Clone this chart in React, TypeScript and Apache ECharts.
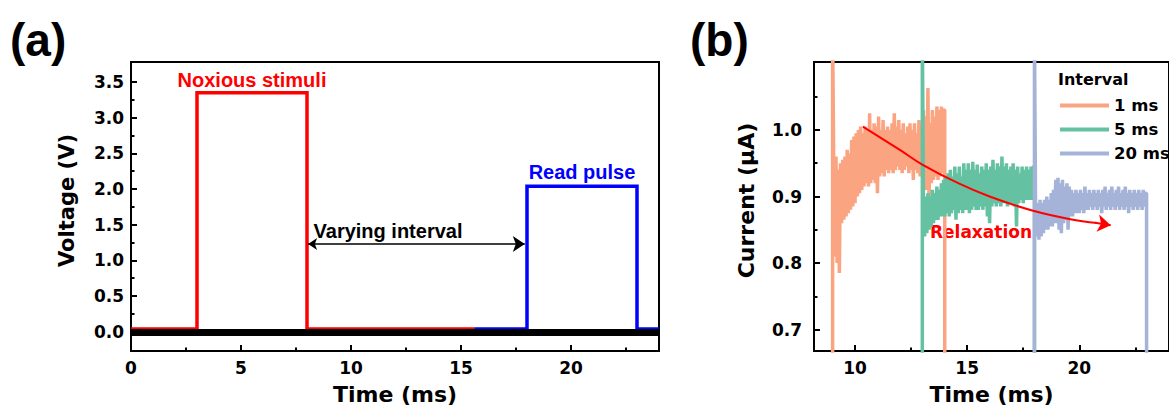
import React, { useEffect, useRef } from "react";
import * as echarts from "echarts";

// ---------- Panel (a) data ----------
const X_A_TICKS = [0, 5, 10, 15, 20];
const X_A_MINOR = [2.5, 7.5, 12.5, 17.5, 22.5];
const Y_A_TICKS = [0, 0.5, 1, 1.5, 2, 2.5, 3, 3.5];
const Y_A_MINOR = [0.25, 0.75, 1.25, 1.75, 2.25, 2.75, 3.25];

const RED_T = [0, 3, 3, 8, 8, 15.6];
const RED_V = [0.04, 0.04, 3.35, 3.35, 0.04, 0.04];
const BLUE_T = [15.6, 18, 18, 23, 23, 24];
const BLUE_V = [0.04, 0.04, 2.04, 2.04, 0.04, 0.04];
const BASE_T = [0, 24];
const BASE_V = [-0.01, -0.01];
const INTERVAL_ARROW_T = [8.05, 17.9];
const INTERVAL_ARROW_V = 1.23;

// ---------- Panel (b) data ----------
const X_B_TICKS = [10, 15, 20];
const X_B_MINOR = [12.5, 17.5, 22.5];
const Y_B_TICKS = [0.7, 0.8, 0.9, 1.0];
const Y_B_MINOR = [0.75, 0.85, 0.95, 1.05];

const T_STEP = 0.05;
const OFF_LOW = 0.6; // pulse current far below the visible window
const OFF_HIGH = 1.15; // pulse current far above the visible window

const ORANGE_PULSE_ON = 9.0;
const ORANGE_START = 9.05;
const ORANGE_END = 14.0;
const ORANGE_V = [
  0.95, 0.81, 0.96, 0.80, 0.94, 0.785, 0.95, 0.86, 0.955, 0.865,
  0.96, 0.87, 0.97, 0.875, 0.965, 0.88, 0.985, 0.885, 0.99, 0.89,
  0.995, 0.90, 1.0, 0.905, 1.005, 0.91, 0.995, 0.915, 1.005, 0.92,
  1.0, 0.915, 1.025, 0.92, 1.0, 0.925, 1.01, 0.92, 1.005, 0.905,
  1.02, 0.93, 1.0, 0.935, 1.015, 0.93, 1.0, 0.94, 1.005, 0.935,
  1.0, 0.94, 1.01, 0.935, 1.025, 0.94, 1.005, 0.945, 1.015, 0.94,
  1.0, 0.935, 1.01, 0.94, 0.995, 0.945, 1.005, 0.935, 1.01, 0.94,
  1.0, 0.925, 1.01, 0.94, 0.995, 0.935, 1.015, 0.93, 1.01, 0.935,
  1.03, 0.93, 1.02, 0.91, 1.063, 0.895, 1.01, 0.92, 1.03, 0.925,
  1.02, 0.93, 1.035, 0.925, 1.03, 0.93, 1.035, 0.935, 1.03,
];

const GREEN_PULSE_ON = 13.0;
const GREEN_START = 13.05;
const GREEN_END = 18.0;
const GREEN_V = [
  0.895, 0.84, 0.90, 0.845, 0.905, 0.85, 0.90, 0.855, 0.91, 0.86,
  0.905, 0.865, 0.915, 0.865, 0.91, 0.87, 0.92, 0.87, 0.925, 0.87,
  0.93, 0.875, 0.935, 0.87, 0.94, 0.875, 0.93, 0.88, 0.945, 0.865,
  0.935, 0.875, 0.945, 0.88, 0.93, 0.875, 0.95, 0.88, 0.94, 0.88,
  0.95, 0.875, 0.94, 0.88, 0.952, 0.885, 0.94, 0.88, 0.948, 0.88,
  0.935, 0.885, 0.945, 0.88, 0.94, 0.885, 0.95, 0.87, 0.94, 0.86,
  0.945, 0.885, 0.955, 0.89, 0.94, 0.885, 0.95, 0.89, 0.945, 0.885,
  0.96, 0.89, 0.945, 0.89, 0.95, 0.885, 0.94, 0.89, 0.945, 0.89,
  0.95, 0.885, 0.94, 0.855, 0.945, 0.89, 0.935, 0.895, 0.945, 0.89,
  0.94, 0.895, 0.945, 0.895, 0.94, 0.895, 0.945, 0.895, 0.945,
];

const BLUE_PULSE_ON = 18.0;
const BLUE_START = 18.05;
const BLUE_END = 23.0;
const BLUE_TRACE_V = [
  0.885, 0.84, 0.89, 0.835, 0.895, 0.84, 0.89, 0.845, 0.895, 0.85,
  0.90, 0.85, 0.895, 0.855, 0.905, 0.855, 0.91, 0.86, 0.925, 0.86,
  0.928, 0.85, 0.92, 0.845, 0.925, 0.86, 0.915, 0.865, 0.92, 0.85,
  0.915, 0.87, 0.91, 0.87, 0.905, 0.875, 0.91, 0.875, 0.905, 0.875,
  0.91, 0.88, 0.905, 0.875, 0.915, 0.88, 0.905, 0.88, 0.91, 0.885,
  0.905, 0.88, 0.91, 0.885, 0.905, 0.88, 0.91, 0.885, 0.905, 0.875,
  0.91, 0.885, 0.915, 0.88, 0.905, 0.885, 0.91, 0.88, 0.915, 0.885,
  0.905, 0.88, 0.91, 0.885, 0.915, 0.88, 0.905, 0.885, 0.91, 0.88,
  0.915, 0.885, 0.905, 0.875, 0.91, 0.885, 0.905, 0.88, 0.91, 0.885,
  0.905, 0.88, 0.91, 0.885, 0.905, 0.88, 0.91, 0.885, 0.905,
];

const RELAX_T = [10.35, 12.0, 13.0, 14.6, 16.0, 17.9, 19.6, 20.8];
const RELAX_V = [1.005, 0.97, 0.948, 0.92, 0.9, 0.879, 0.866, 0.8603];
const RELAX_HEAD_T = [20.7, 21.4];
const RELAX_HEAD_V = [0.8607, 0.857];

const LEGEND_NAMES = ["1 ms", "5 ms", "20 ms"];

// ---------- styles ----------
const DV = '"DejaVu Sans"';
const LS = '"Liberation Sans", Arial, sans-serif';
const C_ORANGE = "#fba481";
const C_GREEN = "#64c2a2";
const C_BLUE = "#a5b3d8";

const zip = (t: number[], v: number[]) => t.map((x, i) => [x, v[i]]);
const sampled = (start: number, vals: number[]) =>
  vals.map((v, i) => [Number((start + i * T_STEP).toFixed(3)), v]);

function mainX(grid: number, min: number, max: number, ticks: number[]) {
  return {
    gridIndex: grid,
    type: "value",
    min,
    max,
    position: "bottom",
    axisLine: { onZero: false, lineStyle: { color: "#000", width: 2 } },
    axisTick: { inside: true, length: 6, customValues: ticks, lineStyle: { color: "#000", width: 2 } },
    axisLabel: {
      customValues: ticks,
      margin: 8,
      color: "#000",
      fontFamily: DV,
      fontWeight: "bold",
      fontSize: 17,
    },
    splitLine: { show: false },
    name: "Time (ms)",
    nameLocation: "middle",
    nameGap: 32,
    nameTextStyle: { color: "#000", fontFamily: DV, fontWeight: "bold", fontSize: 22 },
  };
}
function minorX(grid: number, min: number, max: number, ticks: number[]) {
  return {
    gridIndex: grid,
    type: "value",
    min,
    max,
    position: "bottom",
    axisLine: { show: false, onZero: false },
    axisTick: { inside: true, length: 3.5, customValues: ticks, lineStyle: { color: "#000", width: 2 } },
    axisLabel: { show: false },
    splitLine: { show: false },
  };
}
function mainY(
  grid: number,
  min: number,
  max: number,
  ticks: number[],
  name: string,
  gap: number,
  margin: number,
  nameSize: number
) {
  return {
    gridIndex: grid,
    type: "value",
    min,
    max,
    position: "left",
    axisLine: { onZero: false, lineStyle: { color: "#000", width: 2 } },
    axisTick: { inside: true, length: 6, customValues: ticks, lineStyle: { color: "#000", width: 2 } },
    axisLabel: {
      customValues: ticks,
      margin,
      color: "#000",
      fontFamily: DV,
      fontWeight: "bold",
      fontSize: 17,
      formatter: (v: number) => v.toFixed(1),
    },
    splitLine: { show: false },
    name,
    nameLocation: "middle",
    nameGap: gap,
    nameTextStyle: {
      color: "#000",
      fontFamily: DV,
      fontWeight: "bold",
      fontSize: nameSize,
      padding: [0, 0, 0, 12],
    },
  };
}
function minorY(grid: number, min: number, max: number, ticks: number[]) {
  return {
    gridIndex: grid,
    type: "value",
    min,
    max,
    position: "left",
    axisLine: { show: false, onZero: false },
    axisTick: { inside: true, length: 3.5, customValues: ticks, lineStyle: { color: "#000", width: 2 } },
    axisLabel: { show: false },
    splitLine: { show: false },
  };
}

const textEl = (text: string, x: number, y: number, font: string, fill: string, align = "center") => ({
  type: "text",
  x,
  y,
  style: { text, font, fill, align, verticalAlign: "middle" },
});

export default function App() {
  const ref = useRef<HTMLDivElement>(null);
  useEffect(() => {
    if (!ref.current) return;
    const chart = echarts.init(ref.current, null, { renderer: "svg" });
    const lineBase = { type: "line", symbol: "none", showSymbol: false, silent: true };
    const option: any = {
      animation: false,
      backgroundColor: "#fff",
      grid: [
        { left: 131, top: 62, width: 528, height: 289, show: true, borderColor: "#000", borderWidth: 2, backgroundColor: "transparent" },
        { left: 814, top: 62, width: 368, height: 289, show: true, borderColor: "#000", borderWidth: 2, backgroundColor: "transparent" },
      ],
      xAxis: [
        mainX(0, 0, 24, X_A_TICKS),
        mainX(1, 8.17, 24, X_B_TICKS),
        minorX(0, 0, 24, X_A_MINOR),
        minorX(1, 8.17, 24, X_B_MINOR),
      ],
      yAxis: [
        mainY(0, -0.27, 3.78, Y_A_TICKS, "Voltage (V)", 54, 7, 21),
        mainY(1, 0.668, 1.102, Y_B_TICKS, "Current (μA)", 57, 12, 22),
        minorY(0, -0.27, 3.78, Y_A_MINOR),
        minorY(1, 0.668, 1.102, Y_B_MINOR),
      ],
      legend: {
        data: LEGEND_NAMES.map((n) => ({ name: n, icon: "rect" })),
        orient: "vertical",
        left: 1055,
        top: 92,
        itemWidth: 49,
        itemHeight: 4,
        itemGap: 7,
        selectedMode: false,
        textStyle: { color: "#000", fontFamily: DV, fontWeight: "bold", fontSize: 16.5 },
      },
      graphic: [
        textEl("(a)", 10, 40, `bold 46px ${LS}`, "#000", "left"),
        textEl("(b)", 690, 40, `bold 46px ${LS}`, "#000", "left"),
        textEl("Noxious stimuli", 252, 80, `bold 20px ${LS}`, "#ff0000"),
        textEl("Read pulse", 582, 172, `bold 20px ${LS}`, "#0000ff"),
        textEl("Varying interval", 388, 231, `bold 20px ${LS}`, "#000"),
        textEl("Relaxation", 981, 232, `bold 17px ${DV}`, "#ff0000"),
        textEl("Interval", 1058, 79, `bold 16px ${DV}`, "#000", "left"),
      ],
      series: [
        // Panel (a)
        {
          ...lineBase,
          name: "Noxious stimuli",
          xAxisIndex: 0,
          yAxisIndex: 0,
          data: zip(RED_T, RED_V),
          lineStyle: { color: "#ff0000", width: 3.5, join: "miter" },
          z: 2,
        },
        {
          ...lineBase,
          name: "Read pulse",
          xAxisIndex: 0,
          yAxisIndex: 0,
          data: zip(BLUE_T, BLUE_V),
          lineStyle: { color: "#0000ff", width: 3.5, join: "miter" },
          z: 2,
        },
        {
          ...lineBase,
          name: "baseline",
          xAxisIndex: 0,
          yAxisIndex: 0,
          data: zip(BASE_T, BASE_V),
          lineStyle: { color: "#000", width: 7, cap: "butt" },
          z: 3,
        },
        {
          type: "lines",
          coordinateSystem: "cartesian2d",
          xAxisIndex: 0,
          yAxisIndex: 0,
          silent: true,
          symbol: ["arrow", "arrow"],
          symbolSize: [9, 12],
          lineStyle: { color: "#000", width: 1.5, opacity: 1 },
          data: [{ coords: [[INTERVAL_ARROW_T[0], INTERVAL_ARROW_V], [INTERVAL_ARROW_T[1], INTERVAL_ARROW_V]] }],
          z: 4,
        },
        // Panel (b)
        {
          ...lineBase,
          name: "1 ms",
          xAxisIndex: 1,
          yAxisIndex: 1,
          color: C_ORANGE,
          data: [
            [ORANGE_PULSE_ON, OFF_LOW],
            [ORANGE_PULSE_ON, OFF_HIGH],
            ...sampled(ORANGE_START, ORANGE_V),
            [ORANGE_END, ORANGE_V[ORANGE_V.length - 1]],
            [ORANGE_END, OFF_LOW],
          ],
          lineStyle: { color: C_ORANGE, width: 3.5 },
          z: 2,
        },
        {
          ...lineBase,
          name: "5 ms",
          xAxisIndex: 1,
          yAxisIndex: 1,
          color: C_GREEN,
          data: [
            [GREEN_PULSE_ON, OFF_LOW],
            [GREEN_PULSE_ON, OFF_HIGH],
            ...sampled(GREEN_START, GREEN_V),
            [GREEN_END, GREEN_V[GREEN_V.length - 1]],
            [GREEN_END, OFF_LOW],
          ],
          lineStyle: { color: C_GREEN, width: 3.5 },
          z: 3,
        },
        {
          ...lineBase,
          name: "20 ms",
          xAxisIndex: 1,
          yAxisIndex: 1,
          color: C_BLUE,
          data: [
            [BLUE_PULSE_ON, OFF_LOW],
            [BLUE_PULSE_ON, OFF_HIGH],
            ...sampled(BLUE_START, BLUE_TRACE_V),
            [BLUE_END, BLUE_TRACE_V[BLUE_TRACE_V.length - 1]],
            [BLUE_END, OFF_LOW],
          ],
          lineStyle: { color: C_BLUE, width: 3.5 },
          z: 4,
        },
        {
          ...lineBase,
          name: "Relaxation",
          xAxisIndex: 1,
          yAxisIndex: 1,
          smooth: 0.4,
          data: zip(RELAX_T, RELAX_V),
          lineStyle: { color: "#ff0000", width: 2 },
          z: 6,
        },
        {
          type: "lines",
          coordinateSystem: "cartesian2d",
          xAxisIndex: 1,
          yAxisIndex: 1,
          silent: true,
          symbol: ["none", "arrow"],
          symbolSize: [10, 13],
          lineStyle: { color: "#ff0000", width: 2, opacity: 1 },
          data: [{ coords: zip(RELAX_HEAD_T, RELAX_HEAD_V) }],
          z: 6,
        },
      ],
    };
    chart.setOption(option);
    return () => chart.dispose();
  }, []);
  return (
    <div
      ref={ref}
      style={{ position: "fixed", left: 0, top: 0, width: 1169, height: 417, background: "#fff" }}
    />
  );
}
